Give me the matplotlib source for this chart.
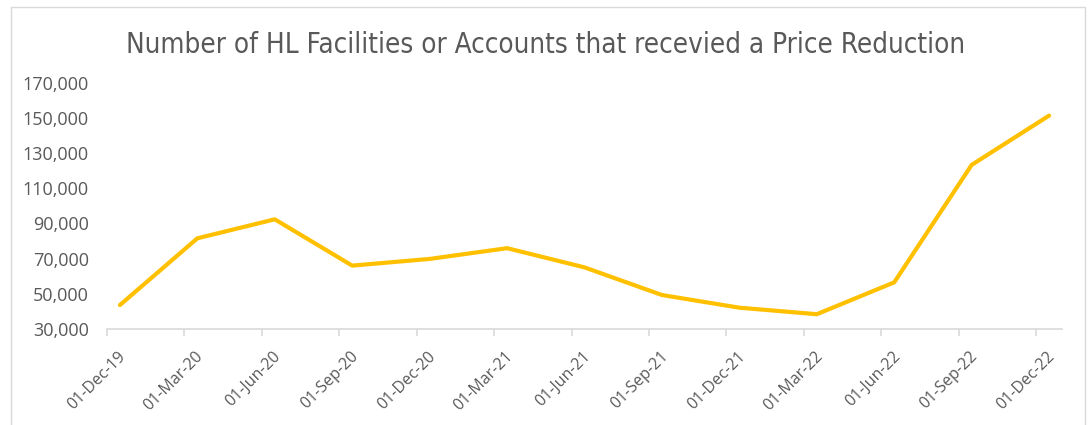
import matplotlib
matplotlib.use("Agg")
import matplotlib.pyplot as plt
from matplotlib.patches import Rectangle
from matplotlib.transforms import ScaledTranslation
from matplotlib import font_manager
from matplotlib.font_manager import FontProperties
import datetime as dt

# ---- data ----
dates = ["2019-12-01", "2020-03-01", "2020-06-01", "2020-09-01", "2020-12-01",
         "2021-03-01", "2021-06-01", "2021-09-01", "2021-12-01", "2022-03-01",
         "2022-06-01", "2022-09-01", "2022-12-01"]
tick_labels = ["01-Dec-19", "01-Mar-20", "01-Jun-20", "01-Sep-20", "01-Dec-20",
               "01-Mar-21", "01-Jun-21", "01-Sep-21", "01-Dec-21", "01-Mar-22",
               "01-Jun-22", "01-Sep-22", "01-Dec-22"]
values = [43600, 81500, 92300, 66000, 69800, 75900, 65000,
          49300, 42100, 38400, 56500, 123200, 151200]
y_ticks = [30000, 50000, 70000, 90000, 110000, 130000, 150000, 170000]
title = "Number of HL Facilities or Accounts that recevied a Price Reduction"

# month index relative to first date (Excel-like date axis, base unit = month)
d0 = dt.date.fromisoformat(dates[0])
months = [(dt.date.fromisoformat(d).year - d0.year) * 12 +
          (dt.date.fromisoformat(d).month - d0.month) for d in dates]
x_points = [m + 0.5 for m in months]   # points plotted mid-month

avail = {f.name for f in font_manager.fontManager.ttflist}
tick_font = "Open Sans" if "Open Sans" in avail else "DejaVu Sans"

# try to find a condensed face for the title
title_fp = None
for f in font_manager.fontManager.ttflist:
    if f.name in ("DejaVu Sans", "Noto Sans", "Open Sans", "Roboto") and \
            "condensed" in str(f.stretch).lower() and f.weight in (400, "normal", "regular") \
            and f.style == "normal":
        title_fp = FontProperties(fname=f.fname)
        break
if title_fp is None:
    for f in font_manager.fontManager.ttflist:
        if "Condensed" in f.fname and "Bold" not in f.fname and "Oblique" not in f.fname \
                and "Italic" not in f.fname:
            title_fp = FontProperties(fname=f.fname)
            break
if title_fp is None:
    title_fp = FontProperties(family="Open Sans")

W, H = 1088, 425
fig = plt.figure(figsize=(W / 100, H / 100), dpi=100)
fig.patch.set_facecolor("white")

# outer chart border
fig.patches.append(Rectangle((10.5 / W, -0.05), (1085 - 10.5) / W, 1.05 - 7.5 / H,
                             transform=fig.transFigure, fill=False,
                             edgecolor="#d9d9d9", linewidth=1.0))

ax = fig.add_axes([107 / W, 1 - 329 / H, (1062 - 107) / W, (329 - 82.5) / H])
ax.plot(x_points, values, color="#FFC000", linewidth=3.0,
        solid_joinstyle="round", solid_capstyle="round")

ax.set_xlim(0, months[-1] + 1)
ax.set_ylim(y_ticks[0], y_ticks[-1])
ax.set_yticks(y_ticks)
ax.set_yticklabels([f"{v:,}" for v in y_ticks], fontsize=13, color="#595959",
                   family=tick_font)
ax.set_xticks(months)
ax.set_xticklabels(tick_labels, fontsize=11.5, color="#595959", family=tick_font,
                   rotation=45, ha="right", va="top", rotation_mode="anchor")

for s in ["top", "right", "left"]:
    ax.spines[s].set_visible(False)
ax.spines["bottom"].set_color("#d9d9d9")
ax.spines["bottom"].set_linewidth(1.2)
ax.tick_params(axis="y", length=0, pad=13)
ax.tick_params(axis="x", length=5, width=1.2, color="#d9d9d9", direction="out", pad=9)

off = ScaledTranslation(11 / 100, 0, fig.dpi_scale_trans)
for lbl in ax.get_xticklabels():
    lbl.set_transform(lbl.get_transform() + off)

t = fig.text(546 / W, 1 - 45 / H, title, ha="center", va="center",
             fontproperties=title_fp, fontsize=20, color="#595959")
fig.canvas.draw()
w = t.get_window_extent(fig.canvas.get_renderer()).width
t.set_fontsize(20 * 836 / w)

fig.savefig("out.png", dpi=100, facecolor="white")
